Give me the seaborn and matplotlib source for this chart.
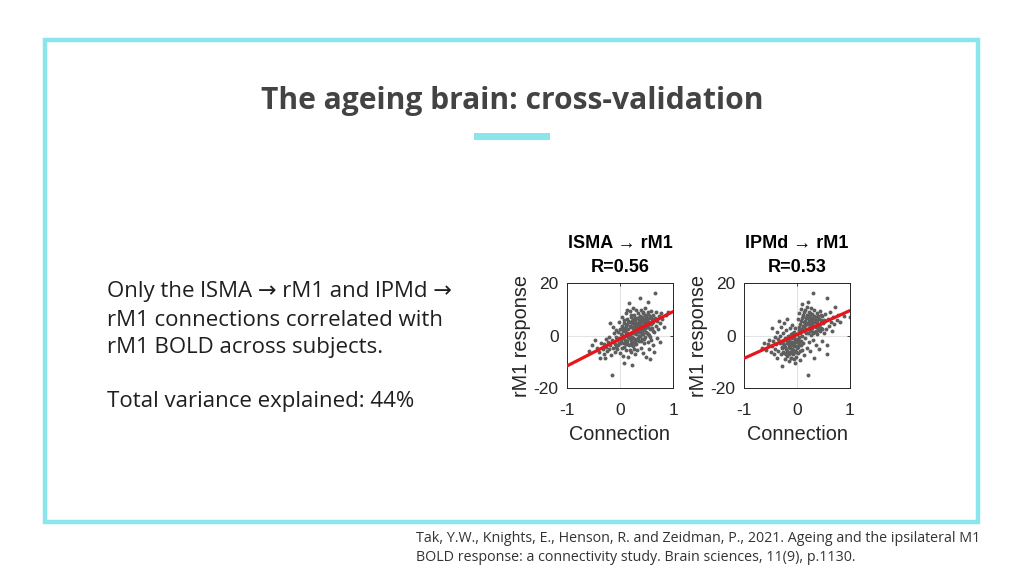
import matplotlib
matplotlib.use("Agg")
import matplotlib.pyplot as plt
import matplotlib.patches as patches
import pandas as pd
import seaborn as sns

# lSMA -> rM1 panel, connection strength vs rM1 response
lsma_conn = [
    -0.58, -0.52, -0.47, -0.44, -0.40, -0.38, -0.36, -0.33, -0.31, -0.30,
    -0.28, -0.27, -0.26, -0.24, -0.23, -0.21, -0.20, -0.19, -0.18, -0.17,
    -0.16, -0.15, -0.14, -0.13, -0.12, -0.11, -0.10, -0.09, -0.08, -0.07,
    -0.06, -0.05, -0.04, -0.03, -0.02, -0.01, 0.00, 0.00, 0.01, 0.02,
    0.03, 0.03, 0.04, 0.05, 0.06, 0.06, 0.07, 0.08, 0.08, 0.09, 0.10,
    0.11, 0.11, 0.12, 0.13, 0.13, 0.14, 0.15, 0.15, 0.16, 0.17,
    0.17, 0.18, 0.18, 0.19, 0.20, 0.20, 0.21, 0.21, 0.22, 0.22,
    0.23, 0.23, 0.24, 0.24, 0.25, 0.25, 0.26, 0.26, 0.27, 0.27,
    0.28, 0.28, 0.29, 0.29, 0.30,
    0.30, 0.31, 0.31, 0.32, 0.32, 0.33, 0.33, 0.34, 0.34, 0.35,
    0.35, 0.36, 0.36, 0.37, 0.37, 0.38, 0.38, 0.39, 0.39, 0.40,
    0.40, 0.41, 0.41, 0.42, 0.42, 0.43, 0.43, 0.44, 0.44, 0.45,
    0.45, 0.46, 0.46, 0.47, 0.48, 0.48, 0.49, 0.49, 0.50,
    0.51, 0.51, 0.52, 0.52, 0.53, 0.53, 0.54, 0.55, 0.55, 0.56,
    0.56, 0.57, 0.58, 0.58, 0.59, 0.60, 0.61, 0.62, 0.62, 0.63,
    0.64, 0.65, 0.66, 0.66, 0.67, 0.68, 0.69, 0.70, 0.72, 0.73,
    0.75, 0.76, 0.78, 0.80, 0.83, 0.86, 0.90,
    0.02, 0.04, 0.07, 0.09, 0.10, 0.12, 0.14, 0.14, 0.16, 0.17,
    0.19, 0.19, 0.21, 0.22, 0.24, 0.25, 0.26, 0.27, 0.28, 0.29,
    0.30, 0.31, 0.32, 0.33, 0.34, 0.35, 0.36, 0.37, 0.38, 0.39,
    0.40, 0.41, 0.42, 0.43, 0.44, 0.45, 0.46, 0.47, 0.48, 0.49,
    0.50, 0.51, 0.52, 0.53, 0.54, 0.56, 0.57, 0.59, 0.61, 0.63,
    0.05, 0.11, 0.18, 0.23, 0.27, -0.02, -0.08, 0.08, 0.13, 0.20,
]
lsma_resp = [
    -5.8, -3.6, -1.6, -4.8, -6.2, -8.6, -2.8, -5.0, -3.4, -7.2,
    -8.4, -1.2, -4.4, -6.0, -2.6, -5.2, -0.6, 4.6, -3.6, -7.4,
    -1.8, -14.9, -4.8, 3.4, -2.4, 0.8, -6.4, -3.2, -0.4, 2.2,
    -5.0, -1.6, 1.2, -3.8, 5.2, -0.8, -6.8, 2.6, -2.2, 0.4,
    -4.6, 7.2, 3.8, -1.0, -7.8, 1.6, 5.8, -3.0, -10.5, -0.2, 3.0,
    -5.4, 8.6, 1.0, -2.0, 6.2, 4.2, -0.6, -8.2, 2.4, 12.3,
    -3.6, 5.2, 0.2, 9.2, -1.8, 3.4, 7.0, -6.2, -11.4, 1.4,
    4.6, -0.4, 10.4, -4.0, 2.8, 6.4, -2.6, 0.8, 8.0, 4.0,
    -7.0, 1.8, 5.8, -1.2, 3.2,
    9.8, -3.4, 0.4, 6.8, 2.2, -5.6, 4.8, 8.4, -0.8, 1.2,
    3.6, -2.2, 6.0, 14.4, 7.6, 0.0, 4.4, -4.6, 2.6, 9.6,
    5.4, -1.4, 1.6, 7.2, 3.8, -6.6, 0.6, 5.0, 8.8, 2.0,
    -3.0, 6.4, 4.0, -0.4, 10.6, 2.8, 7.0, -8.0, 4.8,
    1.0, 6.0, -2.4, 3.4, 12.7, 8.2, 5.2, -5.0, 0.2, -8.9,
    7.4, 2.6, 4.4, 9.4, -1.6, 6.2, 3.0, -3.8, 8.0, 5.0,
    1.4, -6.4, 16.1, 6.8, 3.8, 9.0, -0.8, 5.6, 2.6, 7.6,
    -2.4, 4.8, 8.6, 6.2, 3.4, 7.8, 9.1,
    -2.8, 0.2, -4.4, 1.8, -1.6, 3.6, -3.2, 0.8, 5.6, -1.0,
    0.6, 3.8, -2.8, 5.6, 1.0, -0.8, 4.8, 2.0, 6.8, -2.8,
    0.8, 4.4, -1.8, 2.6, 6.6, -0.2, 4.6, 1.8, 7.0, -2.0,
    3.4, 5.8, 0.6, 8.4, 2.4, 4.8, -1.2, 7.8, 5.0, 1.4,
    6.6, 3.2, 8.8, 0.4, 6.8, 4.2, -0.6, 7.0, 4.8, 1.8,
    2.4, -3.4, -5.6, -3.8, -5.0, -3.0, -4.2, 4.8, 9.8, 8.0,
]

# lPMd -> rM1 panel
lpmd_conn = [
    -0.66, -0.62, -0.58, -0.55, -0.52, -0.50, -0.48, -0.47, -0.45, -0.43, -0.42, -0.41,
    -0.39, -0.38, -0.37, -0.36, -0.35, -0.34, -0.33, -0.32, -0.31, -0.30,
    -0.29, -0.28, -0.28, -0.27, -0.26, -0.25, -0.24, -0.23, -0.22, -0.21, -0.20,
    -0.19, -0.19, -0.18, -0.17, -0.16, -0.15, -0.15, -0.14, -0.13, -0.12,
    -0.12, -0.11, -0.10, -0.10, -0.09, -0.08, -0.07, -0.06, -0.06, -0.05,
    -0.04, -0.03, -0.03, -0.02, -0.01, 0.00, 0.00,
    0.01, 0.02, 0.02, 0.03, 0.04, 0.04, 0.05, 0.06, 0.06, 0.07,
    0.08, 0.08, 0.09, 0.09, 0.10, 0.10, 0.11, 0.12, 0.12, 0.13,
    0.14, 0.14, 0.15, 0.16, 0.16, 0.17, 0.18, 0.18, 0.19, 0.20, 0.20,
    0.21, 0.21, 0.22, 0.22, 0.23, 0.23, 0.24, 0.25, 0.25, 0.26,
    0.26, 0.27, 0.28, 0.28, 0.29, 0.30, 0.30, 0.31, 0.31, 0.32,
    0.33, 0.33, 0.34, 0.35, 0.35, 0.36, 0.37, 0.38, 0.38, 0.39, 0.40,
    0.41, 0.42, 0.43, 0.44, 0.45, 0.46, 0.47, 0.48, 0.49, 0.50,
    0.52, 0.53, 0.55, 0.56, 0.575, 0.575, 0.58, 0.60, 0.62, 0.64,
    0.66, 0.68, 0.70, 0.72, 0.75, 0.78, 0.82, 0.88, 1.00,
    -0.28, -0.26, -0.24, -0.22, -0.20, -0.18, -0.17, -0.16, -0.14, -0.13,
    -0.11, -0.10, -0.09, -0.08, -0.07, -0.05, -0.04, -0.03, -0.02, -0.01,
    0.00, 0.01, 0.03, 0.05, 0.06, 0.08, -0.15, -0.12, -0.06, -0.20,
    0.04, 0.07, 0.10, 0.11, 0.13, 0.15, 0.17, 0.19, 0.20, 0.22,
    0.24, 0.24, 0.26, 0.27, 0.29, 0.30, 0.32, 0.33, 0.34, 0.36,
    0.37, 0.39, 0.40, 0.42, 0.44, 0.46, 0.48, 0.50, 0.14, 0.18,
]
lpmd_resp = [
    -4.6, -2.8, -5.6, -3.2, -1.6, -6.4, -4.0, 2.8, -2.2, -7.2, -0.6, -5.0,
    -3.4, 1.2, -8.4, -1.4, -5.8, 5.6, -3.0, -0.2, -7.0, 3.4,
    -4.4, -11.8, -2.0, 0.8, -6.2, 4.8, -3.8, -9.0, -1.0, 2.0, -5.2,
    -7.8, -2.8, 6.4, 0.0, -4.4, -9.8, -1.6, 2.8, -6.4, -3.2,
    0.6, -8.6, -5.0, -1.0, 4.0, -2.4, -7.0, 1.4, -4.0, -0.2,
    -10.4, -5.8, 3.0, -2.0, -8.0, 0.4, -4.8,
    -1.4, 6.2, -6.6, 2.0, -3.4, 8.4, 0.8, -9.2, 4.4, -2.0,
    10.2, 2.6, 11.9, -5.4, 6.8, 0.0, 3.8, -3.0, 8.0, 5.2,
    -7.4, 1.6, 9.6, 4.0, -1.0, 6.6, 2.4, -4.6, 7.8, -15.2, 4.8,
    12.7, 0.8, 3.0, 9.0, -2.6, 6.0, 1.8, 7.4, -6.0, 4.2,
    10.6, 0.2, 5.6, 2.8, 8.2, 16.1, -1.6, 6.4, 3.6, -8.6,
    9.8, 1.2, 5.0, 7.0, -3.6, 3.2, 8.6, 0.4, 5.8, 2.2, 6.8,
    -5.2, 4.0, 9.4, 1.6, 6.0, 3.0, -2.0, 7.6, 4.6, 0.8,
    5.4, 8.2, 2.6, -7.1, -3.5, 14.4, 6.2, 3.8, 9.0, 5.0,
    1.8, 7.0, 4.2, 11.0, 6.0, 8.0, 5.2, 7.6, 7.2,
    -4.8, -2.8, -6.8, -4.2, -1.8, -5.8, -3.0, -7.2, -0.6, -4.6,
    -2.6, -6.8, -3.8, 0.8, -5.4, -3.0, -6.4, -1.2, -4.0, -6.2,
    -2.6, -4.2, -0.4, -5.8, -2.2, -3.8, -3.8, -8.4, -9.0, -7.0,
    3.2, 5.4, 2.2, 7.6, 3.4, 5.6, 1.0, 4.2, 7.0, 5.2,
    3.8, 8.4, 2.0, 6.6, 4.6, 1.0, 7.6, 3.8, 6.0, 1.8,
    4.8, 7.4, 3.4, 6.4, 4.4, 8.0, 2.4, 5.8, 9.0, 11.0,
]

# fitted lines at the axis ends
fit_x = [-1, 1]
lsma_fit = [-11.6, 9.1]
lpmd_fit = [-8.7, 9.5]

panel_titles = ["lSMA \u2192 rM1\nR=0.56", "lPMd \u2192 rM1\nR=0.53"]

bullet_lines = [
    "Only the lSMA \u2192 rM1 and lPMd \u2192",
    "rM1 connections correlated with",
    "rM1 BOLD across subjects.",
]
variance_text = "Total variance explained: 44%"
citation = ("Tak, Y.W., Knights, E., Henson, R. and Zeidman, P., 2021. Ageing and the ipsilateral M1\n"
            "BOLD response: a connectivity study. Brain sciences, 11(9), p.1130.")

sns.set_style("white")
plt.rcParams['font.family'] = ['Liberation Sans', 'DejaVu Sans']

fig = plt.figure(figsize=(10.24, 5.76), dpi=100)
fig.patch.set_facecolor("white")

cyan = "#8ae6ec"
slide_font = ['Open Sans', 'DejaVu Sans']

# slide frame
fig.add_artist(patches.Rectangle((45 / 1024, 1 - 522 / 576), 933 / 1024, 482 / 576,
                                 transform=fig.transFigure, fill=False,
                                 edgecolor=cyan, linewidth=3.2))
fig.text(0.5, 1 - 101 / 576, "The ageing brain: cross-validation", ha="center", va="center",
         fontsize=21.6, fontweight="bold", color="#434343", family=slide_font)
fig.add_artist(patches.Rectangle((474 / 1024, 1 - 140 / 576), 76 / 1024, 7 / 576,
                                 transform=fig.transFigure, color=cyan, linewidth=0))

for i, line in enumerate(bullet_lines):
    fig.text(107 / 1024, 1 - (292 + 28 * i) / 576, line, ha="left", va="center",
             fontsize=16, color="#1f1f1f", family=slide_font)
fig.text(107 / 1024, 1 - 401 / 576, variance_text, ha="left", va="center",
         fontsize=16, color="#1f1f1f", family=slide_font)
fig.text(416 / 1024, 1 - 548 / 576, citation, ha="left", va="center",
         fontsize=10.3, color="#333333", family=slide_font, linespacing=1.4)

panels = [
    (lsma_conn, lsma_resp, lsma_fit, 567),
    (lpmd_conn, lpmd_resp, lpmd_fit, 744),
]
ink = "#262626"
for (conn, resp, fit, left), title in zip(panels, panel_titles):
    ax = fig.add_axes([left / 1024, 1 - 388 / 576, 106 / 1024, 105 / 576])
    df = pd.DataFrame({"Connection": conn, "rM1 response": resp})
    ax.axhline(0, color="#e3e3e3", linewidth=0.8, zorder=0)
    ax.axvline(0, color="#e3e3e3", linewidth=0.8, zorder=0)
    sns.scatterplot(data=df, x="Connection", y="rM1 response", ax=ax,
                    color="#5e5e5e", s=8, linewidth=0, zorder=2)
    sns.lineplot(x=fit_x, y=fit, ax=ax, color="#e8161b", linewidth=2.3, zorder=3)
    ax.set_xlim(-1, 1)
    ax.set_ylim(-20, 20)
    ax.set_xticks([-1, 0, 1])
    ax.set_yticks([-20, 0, 20])
    ax.set_xticklabels(["-1", "0", "1"])
    ax.set_yticklabels(["-20", "0", "20"])
    ax.tick_params(direction="in", length=2.5, width=0.6, colors=ink,
                   labelsize=12.5, top=True, right=True)
    ax.tick_params(axis="x", pad=11)
    ax.tick_params(axis="y", pad=6)
    for sp in ax.spines.values():
        sp.set_visible(True)
        sp.set_color(ink)
        sp.set_linewidth(0.7)
    ax.set_xlabel("Connection", fontsize=14.3, color=ink, labelpad=5)
    ax.set_ylabel("rM1 response", fontsize=14.3, color=ink, labelpad=2)
    ax.set_title(title, fontsize=13, fontweight="bold", color="black",
                 pad=8, linespacing=1.5)

fig.savefig("out.png", dpi=100)
